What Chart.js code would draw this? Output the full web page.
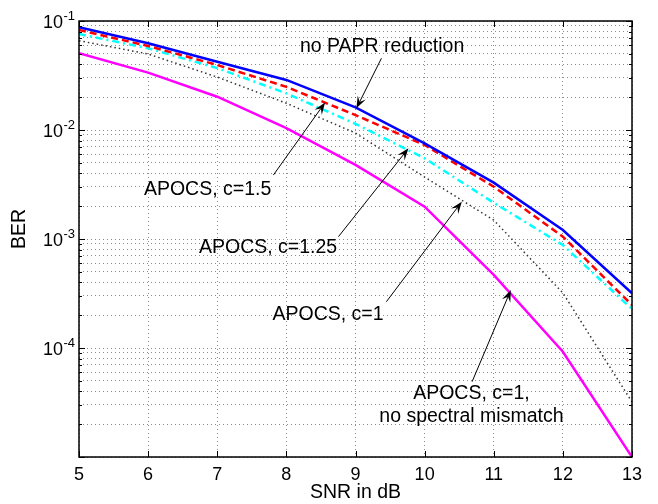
<!DOCTYPE html>
<html>
<head>
<meta charset="utf-8">
<script src="https://cdn.jsdelivr.net/npm/chart.js@4/dist/chart.umd.min.js"></script>
<style>
    html, body { margin: 0; padding: 0; background: #fff; }
</style>
</head>
<body>
<canvas id="ber-chart" width="658" height="504"></canvas>
<script>
// SNR points (dB) and BER curves
const snrValues = [5, 6, 7, 8, 9, 10, 11, 12, 13];
const berNoReduction = [0.0875, 0.0624, 0.0423, 0.0288, 0.0161, 0.00755, 0.00329, 0.00121, 0.000318];
const berC15 = [0.0827, 0.059, 0.0395, 0.0249, 0.0137, 0.00728, 0.00302, 0.00105, 0.000248];
const berC125 = [0.076, 0.0562, 0.037, 0.0217, 0.0114, 0.0055, 0.00215, 0.00088, 0.000228];
const berC1 = [0.066, 0.0498, 0.0306, 0.0176, 0.00937, 0.0037, 0.00149, 0.00032, 0.000032];
const berC1NoMismatch = [0.0506, 0.0336, 0.0202, 0.0104, 0.00478, 0.00198, 0.000468, 0.0000925, 0.00001];

// axis ticks
const xTicks = [5, 6, 7, 8, 9, 10, 11, 12, 13];
const yDecades = [-5, -4, -3, -2, -1];
const yLabelDecades = [-4, -3, -2, -1];

// text callouts: text centre (tx, ty), arrow from (ax, ay) to tip (bx, by), in data units
const callouts = [
    { lines: ['no PAPR reduction'], tx: 9.385, ty: 0.0581, ax: 9.375, ay: 0.0455, bx: 9.013, by: 0.0158 },
    { lines: ['APOCS, c=1.5'], tx: 6.86, ty: 0.00282, ax: 7.812, ay: 0.00386, bx: 8.56, by: 0.01786 },
    { lines: ['APOCS, c=1.25'], tx: 7.735, ty: 0.000826, ax: 8.753, ay: 0.00105, bx: 9.766, by: 0.00679 },
    { lines: ['APOCS, c=1'], tx: 8.603, ty: 0.000201, ax: 9.447, ay: 0.000266, bx: 10.538, by: 0.0022 },
    { lines: ['APOCS, c=1,', 'no spectral mismatch'], tx: 10.677, ty: 0.0000384, ax: 10.687, ay: 0.0000491, bx: 11.247, by: 0.00034 }
];

const FONT = "'Liberation Sans', Arial, Helvetica, sans-serif";

// minor grid values for the log axis: 1..9 x 10^k
const yGridValues = [];
yDecades.forEach(d => {
    if (d === -1) { yGridValues.push(Math.pow(10, d)); return; }
    for (let m = 1; m <= 9; m++) yGridValues.push(m * Math.pow(10, d));
});

function toPoints(values) {
    return snrValues.map((s, i) => ({ x: s, y: values[i] }));
}

function drawArrow(ctx, x1, y1, x2, y2) {
    const len = Math.hypot(x2 - x1, y2 - y1);
    const ux = (x2 - x1) / len, uy = (y2 - y1) / len;
    const nx = -uy, ny = ux;
    const L = 12, W = 4.5;
    const notchX = x2 - ux * L * 0.6, notchY = y2 - uy * L * 0.6;

    ctx.beginPath();
    ctx.moveTo(x1, y1);
    ctx.lineTo(notchX, notchY);
    ctx.lineWidth = 1;
    ctx.strokeStyle = '#000';
    ctx.stroke();

    ctx.beginPath();
    ctx.moveTo(x2, y2);
    ctx.lineTo(x2 - ux * L + nx * W, y2 - uy * L + ny * W);
    ctx.lineTo(notchX, notchY);
    ctx.lineTo(x2 - ux * L - nx * W, y2 - uy * L - ny * W);
    ctx.closePath();
    ctx.fillStyle = '#000';
    ctx.fill();
}

// Box, inside tick marks, y labels with exponents and the callouts
const decorPlugin = {
    id: 'decor',
    afterDraw(chart) {
        const ctx = chart.ctx;
        const area = chart.chartArea;
        const xs = chart.scales.x, ys = chart.scales.y;
        ctx.save();

        // inside tick marks
        ctx.strokeStyle = '#000';
        ctx.lineWidth = 1;
        ctx.beginPath();
        xTicks.forEach(v => {
            const px = Math.round(xs.getPixelForValue(v)) + 0.5;
            ctx.moveTo(px, area.bottom); ctx.lineTo(px, area.bottom - 6);
            ctx.moveTo(px, area.top); ctx.lineTo(px, area.top + 6);
        });
        yGridValues.forEach(v => {
            const py = Math.round(ys.getPixelForValue(v)) + 0.5;
            const major = Math.abs(Math.log10(v) - Math.round(Math.log10(v))) < 1e-9;
            const len = major ? 6 : 3;
            ctx.moveTo(area.left, py); ctx.lineTo(area.left + len, py);
            ctx.moveTo(area.right, py); ctx.lineTo(area.right - len, py);
        });
        ctx.stroke();

        // axes box
        ctx.lineWidth = 1.5;
        ctx.strokeRect(area.left, area.top, area.right - area.left, area.bottom - area.top);

        // y tick labels 10^k
        ctx.fillStyle = '#000';
        ctx.textBaseline = 'alphabetic';
        yLabelDecades.forEach(d => {
            const py = ys.getPixelForValue(Math.pow(10, d));
            const sup = String(d);
            ctx.font = '13px ' + FONT;
            const supW = ctx.measureText(sup).width;
            const right = area.left - 4;
            ctx.textAlign = 'left';
            ctx.fillText(sup, right - supW, py - 1);
            ctx.font = '18px ' + FONT;
            ctx.textAlign = 'right';
            ctx.fillText('10', right - supW - 0.5, py + 6.5);
        });

        // y axis title
        ctx.save();
        ctx.translate(20, 229);
        ctx.rotate(-Math.PI / 2);
        ctx.font = '19.5px ' + FONT;
        ctx.textAlign = 'center';
        ctx.textBaseline = 'middle';
        ctx.fillText('BER', 0, 0);
        ctx.restore();

        // callouts
        callouts.forEach(c => {
            drawArrow(ctx,
                xs.getPixelForValue(c.ax), ys.getPixelForValue(c.ay),
                xs.getPixelForValue(c.bx), ys.getPixelForValue(c.by));
            const cx = xs.getPixelForValue(c.tx);
            const cy = ys.getPixelForValue(c.ty);
            ctx.font = '19.5px ' + FONT;
            ctx.textAlign = 'center';
            ctx.textBaseline = 'middle';
            ctx.fillStyle = '#000';
            c.lines.forEach((line, i) => ctx.fillText(line, cx, cy + i * 23.4));
        });

        ctx.restore();
    }
};

const gridStyle = {
    color: 'rgba(0, 0, 0, 0.45)',
    lineWidth: 1,
    drawTicks: false
};

new Chart(document.getElementById('ber-chart').getContext('2d'), {
    type: 'line',
    data: {
        datasets: [
            { label: 'no PAPR reduction', data: toPoints(berNoReduction), borderColor: '#0000ff', borderWidth: 2.5 },
            { label: 'APOCS, c=1.5', data: toPoints(berC15), borderColor: '#ff0000', borderWidth: 2.5, borderDash: [7, 4] },
            { label: 'APOCS, c=1.25', data: toPoints(berC125), borderColor: '#00ffff', borderWidth: 2.5, borderDash: [7, 4, 2, 4] },
            { label: 'APOCS, c=1', data: toPoints(berC1), borderColor: '#333333', borderWidth: 1.5, borderDash: [1.5, 3] },
            { label: 'APOCS, c=1, no spectral mismatch', data: toPoints(berC1NoMismatch), borderColor: '#ff00ff', borderWidth: 2.5 }
        ]
    },
    options: {
        responsive: false,
        animation: false,
        devicePixelRatio: 1,
        layout: { padding: { left: 0, right: 26, top: 21, bottom: 0 } },
        elements: {
            point: { radius: 0 },
            line: { tension: 0, fill: false }
        },
        plugins: {
            legend: { display: false },
            tooltip: { enabled: false }
        },
        scales: {
            x: {
                type: 'linear',
                min: 5,
                max: 13,
                afterBuildTicks: scale => { scale.ticks = xTicks.map(v => ({ value: v })); },
                afterFit: scale => { scale.height = 47; },
                grid: Object.assign({ borderDash: [1, 3] }, gridStyle),
                border: { display: false, dash: [1, 3] },
                ticks: {
                    color: '#000',
                    font: { family: FONT, size: 18 },
                    padding: 7,
                    autoSkip: false,
                    maxRotation: 0
                },
                title: {
                    display: true,
                    text: 'SNR in dB',
                    color: '#000',
                    font: { family: FONT, size: 19.5 },
                    padding: { top: 0, bottom: 0 }
                }
            },
            y: {
                type: 'logarithmic',
                min: 1e-5,
                max: 1e-1,
                afterBuildTicks: scale => { scale.ticks = yGridValues.map(v => ({ value: v })); },
                afterFit: scale => { scale.width = 79; },
                grid: Object.assign({ borderDash: [1, 3] }, gridStyle),
                border: { display: false, dash: [1, 3] },
                ticks: { display: false }
            }
        }
    },
    plugins: [decorPlugin]
});
</script>
</body>
</html>
